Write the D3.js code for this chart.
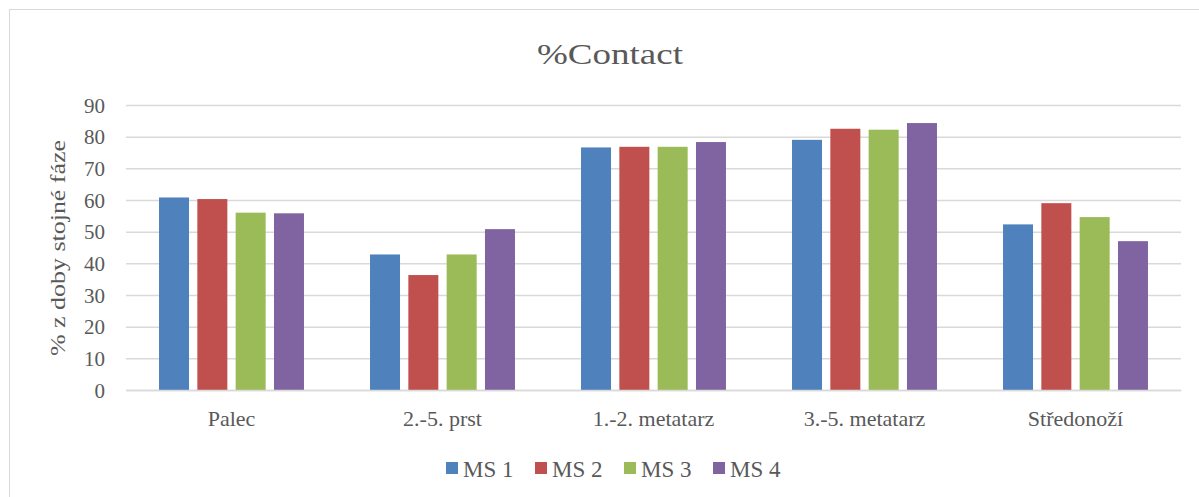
<!DOCTYPE html>
<html>
<head>
<meta charset="utf-8">
<script src="https://cdn.jsdelivr.net/npm/d3@7"></script>
<style>
  html, body { margin: 0; padding: 0; background: #fff; }
  svg { display: block; }
</style>
</head>
<body>
<svg id="chart" width="1199" height="497"></svg>
<script>
// Categories (foot regions) and series (MS 1–4), % of stance phase in contact
const categories = ["Palec", "2.-5. prst", "1.-2. metatarz", "3.-5. metatarz", "Středonoží"];
const seriesNames = ["MS 1", "MS 2", "MS 3", "MS 4"];
const ms1 = [60.8, 42.8, 76.6, 79.0, 52.3];
const ms2 = [60.3, 36.3, 76.8, 82.5, 59.0];
const ms3 = [56.0, 42.8, 76.8, 82.2, 54.6];
const ms4 = [55.8, 50.8, 78.3, 84.3, 47.0];
const seriesValues = [ms1, ms2, ms3, ms4];
const colors = ["#4F81BD", "#C0504D", "#9BBB59", "#8064A2"];
const yTicks = [0, 10, 20, 30, 40, 50, 60, 70, 80, 90];

const FONT = '"Liberation Serif"';
const TEXT_COLOR = "#595959";

const svg = d3.select("#chart");

// chart frame
svg.append("rect")
  .attr("x", 9.5).attr("y", 9.5)
  .attr("width", 1210).attr("height", 520)
  .attr("fill", "#fff").attr("stroke", "#D9D9D9").attr("stroke-width", 1);

const plot = { left: 126, right: 1181, top: 105, bottom: 390 };

const x0 = d3.scaleBand()
  .domain(categories)
  .range([plot.left, plot.right])
  .paddingInner(0.313)
  .paddingOuter(0.1565);

const x1 = d3.scaleBand()
  .domain(seriesNames)
  .range([0, x0.bandwidth()])
  .paddingInner(0.217)
  .paddingOuter(0);

const y = d3.scaleLinear().domain([0, 90]).range([plot.bottom, plot.top]);

// value axis with gridlines
const yAxis = d3.axisLeft(y).tickValues(yTicks).tickSize(-(plot.right - plot.left)).tickPadding(21);
const gy = svg.append("g").attr("transform", `translate(${plot.left},0)`).call(yAxis);
gy.attr("font-family", null).attr("font-size", null);
gy.select(".domain").remove();
gy.selectAll(".tick line").attr("stroke", "#D9D9D9").attr("stroke-width", 1.5);
gy.selectAll(".tick text")
  .style("font-family", FONT)
  .style("font-size", "21px")
  .attr("fill", TEXT_COLOR)
  .attr("dy", "0.34em");

// bars
const groups = svg.append("g").selectAll("g")
  .data(categories)
  .join("g")
  .attr("transform", d => `translate(${x0(d)},0)`);

groups.selectAll("rect")
  .data((c, ci) => seriesNames.map((s, si) => ({ s, si, v: seriesValues[si][ci] })))
  .join("rect")
  .attr("x", d => x1(d.s))
  .attr("width", x1.bandwidth())
  .attr("y", d => y(d.v))
  .attr("height", d => y(0) - y(d.v))
  .attr("fill", d => colors[d.si]);

// category axis
const xAxis = d3.axisBottom(x0).tickSize(0).tickPadding(20);
const gx = svg.append("g").attr("transform", `translate(0,${plot.bottom})`).call(xAxis);
gx.attr("font-family", null).attr("font-size", null);
gx.select(".domain").attr("stroke", "#D9D9D9").attr("stroke-width", 1.5);
gx.selectAll(".tick text")
  .style("font-family", FONT)
  .style("font-size", "22px")
  .attr("fill", TEXT_COLOR);

// title
svg.append("text")
  .attr("x", 610).attr("y", 64)
  .attr("text-anchor", "middle")
  .style("font-family", FONT)
  .style("font-size", "29px")
  .attr("textLength", 146)
  .attr("lengthAdjust", "spacingAndGlyphs")
  .attr("fill", TEXT_COLOR)
  .text("%Contact");

// value axis title
svg.append("text")
  .attr("transform", `translate(65,248) rotate(-90)`)
  .attr("text-anchor", "middle")
  .style("font-family", FONT)
  .style("font-size", "22px")
  .attr("textLength", 216)
  .attr("lengthAdjust", "spacingAndGlyphs")
  .attr("fill", TEXT_COLOR)
  .text("% z doby stojné fáze");

// legend
const legendX = d3.scalePoint().domain(seriesNames).range([446, 713]);
const legend = svg.append("g").selectAll("g")
  .data(seriesNames)
  .join("g")
  .attr("transform", d => `translate(${legendX(d)},462)`);
legend.append("rect").attr("width", 12).attr("height", 12).attr("fill", (d, i) => colors[i]);
legend.append("text")
  .attr("x", 17).attr("y", 15)
  .style("font-family", FONT)
  .style("font-size", "23px")
  .attr("fill", TEXT_COLOR)
  .text(d => d);
</script>
</body>
</html>
